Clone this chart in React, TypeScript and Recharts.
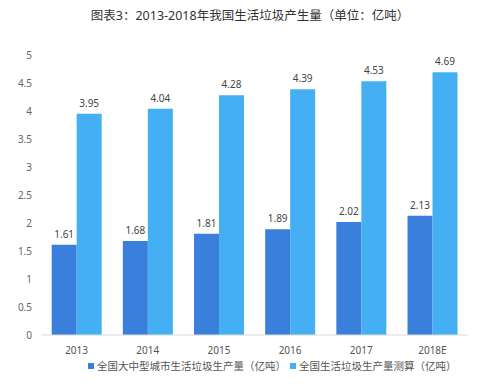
import React from 'react';
import { BarChart, Bar, XAxis, YAxis, LabelList } from 'recharts';

const years = ['2013', '2014', '2015', '2016', '2017', '2018E'];
const cityOutput = [1.61, 1.68, 1.81, 1.89, 2.02, 2.13];
const nationalOutput = [3.95, 4.04, 4.28, 4.39, 4.53, 4.69];
const yTicks = [0, 0.5, 1, 1.5, 2, 2.5, 3, 3.5, 4, 4.5, 5];

const cityName = '全国大中型城市生活垃圾生产量（亿吨）';
const nationalName = '全国生活垃圾生产量测算（亿吨）';

const data = years.map((year, i) => ({
    year,
    city: cityOutput[i],
    national: nationalOutput[i],
}));

const font = '"Noto Sans", "Noto Sans CJK SC", sans-serif';

const legendItem = (left: number, color: string, label: string) => (
    <span style={{ position: 'absolute', left, top: 0, whiteSpace: 'nowrap', display: 'flex', alignItems: 'center' }}>
        <span style={{ width: 6, height: 6, background: color, marginRight: 3, display: 'inline-block' }} />
        {label}
    </span>
);

const App: React.FC = () => {
    return (
        <div style={{ position: 'absolute', left: 0, top: 0, width: 500, height: 391, background: '#fff' }}>
            <div
                style={{
                    position: 'absolute',
                    top: 5,
                    left: 0,
                    width: 500,
                    textAlign: 'center',
                    fontSize: 12.5,
                    color: '#333',
                    fontFamily: font,
                }}
            >
                图表3：2013-2018年我国生活垃圾产生量（单位：亿吨）
            </div>
            <BarChart
                width={500}
                height={391}
                data={data}
                margin={{ top: 55, right: 32, left: 6, bottom: 26 }}
                barCategoryGap="15%"
                barGap={0}
            >
                <XAxis
                    dataKey="year"
                    height={30}
                    axisLine={{ stroke: '#d9d9d9' }}
                    tickLine={false}
                    tick={{ fill: '#555', fontSize: 10, fontFamily: font }}
                    tickMargin={6}
                />
                <YAxis
                    width={35}
                    domain={[0, 5]}
                    ticks={yTicks}
                    axisLine={false}
                    tickLine={false}
                    tickSize={0}
                    tickMargin={9}
                    tick={{ fill: '#666', fontSize: 10, fontFamily: font }}
                />
                <Bar dataKey="city" name={cityName} fill="#3b7fdd" isAnimationActive={false}>
                    <LabelList dataKey="city" position="top" offset={7} style={{ fill: '#444', fontSize: 10, fontFamily: font }} />
                </Bar>
                <Bar dataKey="national" name={nationalName} fill="#44aff2" isAnimationActive={false}>
                    <LabelList dataKey="national" position="top" offset={7} style={{ fill: '#444', fontSize: 10, fontFamily: font }} />
                </Bar>
            </BarChart>
            <div
                style={{
                    position: 'absolute',
                    left: 0,
                    top: 358,
                    width: 500,
                    height: 14,
                    fontSize: 10.5,
                    color: '#555',
                    fontFamily: font,
                }}
            >
                {legendItem(88, '#3b7fdd', cityName)}
                {legendItem(290, '#44aff2', nationalName)}
            </div>
        </div>
    );
};

export default App;
